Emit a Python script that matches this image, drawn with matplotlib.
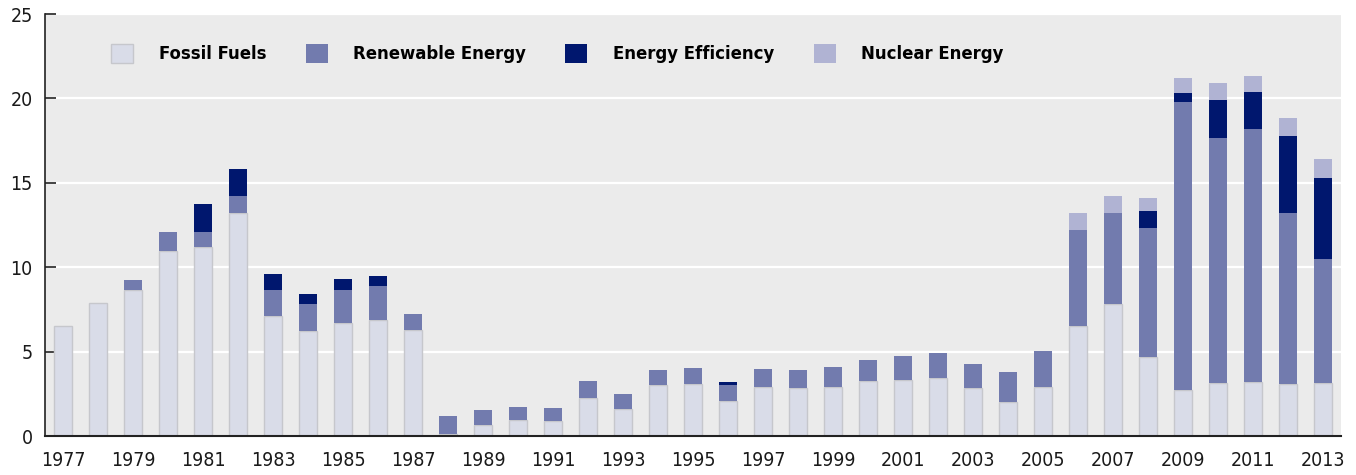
import numpy as np
from matplotlib import pyplot as plt

years = list(range(1977, 2014))
fossil = [6.5, 7.9, 8.64, 10.97, 11.19, 13.22, 7.11, 6.21, 6.68, 6.86, 6.30, 0.1,
          0.63, 0.93, 0.87, 2.23, 1.58, 3.02, 3.08, 2.06, 2.89, 2.83, 2.91, 3.24,
          3.30, 3.42, 2.83, 2.0, 2.89, 6.50, 7.81, 4.66, 2.71, 3.12, 3.18, 3.06, 3.12]
renewable = [0, 0, 0.59, 1.10, 0.88, 0.99, 1.53, 1.60, 1.96, 2.01, 0.91, 1.07,
             0.89, 0.77, 0.77, 1.01, 0.89, 0.87, 0.93, 0.96, 1.06, 1.06, 1.16, 1.25,
             1.42, 1.48, 1.42, 1.77, 2.13, 5.69, 5.39, 7.65, 17.07, 14.53, 15.0, 10.14, 7.35]
efficiency = [0, 0, 0, 0, 1.67, 1.60, 0.94, 0.59, 0.65, 0.60, 0, 0,
              0, 0, 0, 0, 0, 0, 0, 0.16, 0, 0, 0, 0,
              0, 0, 0, 0, 0, 0, 0, 1.01, 0.54, 2.25, 2.20, 4.57, 4.81]
nuclear = [0, 0, 0, 0, 0, 0, 0, 0, 0, 0, 0, 0,
           0, 0, 0, 0, 0, 0, 0, 0, 0, 0, 0, 0,
           0, 0, 0, 0, 0, 1.01, 1.01, 0.77, 0.89, 1.01, 0.94, 1.06, 1.12]
labels = ['Fossil Fuels', 'Renewable Energy', 'Energy Efficiency', 'Nuclear Energy']

# narrow looking text: DejaVu Sans Condensed
plt.rcParams['font.family'] = ['DejaVu Sans']
plt.rcParams['font.stretch'] = 'condensed'

fig = plt.figure(figsize=(13.56, 4.75), dpi=100)
ax = fig.add_axes([45 / 1356, 39 / 475, 1295.7 / 1356, 422 / 475])
ax.set_facecolor('#ebebeb')

x = np.array(years)
w = 0.52
bottom = np.zeros(len(years))
b1 = ax.bar(x, fossil, w, bottom=bottom, color='#d9dce8', edgecolor='#c6c7cc', linewidth=1, zorder=3)
bottom += np.array(fossil)
b2 = ax.bar(x, renewable, w, bottom=bottom, color='#727bae', linewidth=0, zorder=3)
bottom += np.array(renewable)
b3 = ax.bar(x, efficiency, w, bottom=bottom, color='#00176e', linewidth=0, zorder=3)
bottom += np.array(efficiency)
b4 = ax.bar(x, nuclear, w, bottom=bottom, color='#b0b3d3', linewidth=0, zorder=3)

ax.set_xlim(1977 - 0.523, 2013 + 0.514)
ax.set_ylim(0, 25)
ax.set_yticks([0, 5, 10, 15, 20, 25])
ax.set_xticks(years[::2])
ax.yaxis.grid(True, color='white', linewidth=1.6, zorder=1)
ax.tick_params(axis='y', direction='in', length=8, width=1.2, color='#222222',
               labelsize=14, labelcolor='#1a1a1a', pad=9)
ax.tick_params(axis='x', length=0, labelsize=14, labelcolor='#1a1a1a', pad=11)

for s in ['top', 'right']:
    ax.spines[s].set_visible(False)
for s in ['left', 'bottom']:
    ax.spines[s].set_color('#222222')
    ax.spines[s].set_zorder(5)
ax.spines['left'].set_linewidth(1.2)
ax.spines['bottom'].set_linewidth(1.5)

ax.legend([b1, b2, b3, b4], labels, loc='center left', bbox_to_anchor=(0.0509, 0.906),
          ncol=4, frameon=False, borderpad=0, borderaxespad=0,
          handlelength=1.2, handleheight=1.2, handletextpad=1.4, columnspacing=2.15,
          prop={'size': 13.2, 'weight': 'bold'})

plt.savefig('out.png', dpi=100)
